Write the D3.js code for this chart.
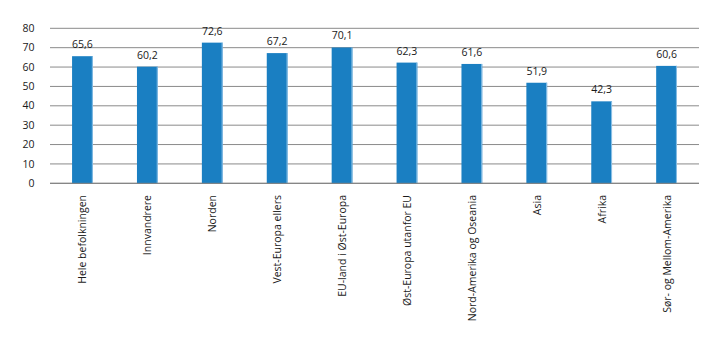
<!DOCTYPE html>
<html><head><meta charset="utf-8">
<script src="https://cdn.jsdelivr.net/npm/d3@7"></script>
<style>body{margin:0;background:#fff}svg{display:block}text{font-family:"Open Sans",sans-serif;fill:#1a1a1a}</style>
</head><body><svg id="c" width="720" height="341"></svg>
<script>
const categories = ["Hele befolkningen","Innvandrere","Norden","Vest-Europa ellers","EU-land i Øst-Europa","Øst-Europa utanfor EU","Nord-Amerika og Oseania","Asia","Afrika","Sør- og Mellom-Amerika"];
const values = [65.6,60.2,72.6,67.2,70.1,62.3,61.6,51.9,42.3,60.6];
const yTicks = [0,10,20,30,40,50,60,70,80];

const svg = d3.select("#c");
const mLeft = 50, mRight = 699, mTop = 28.3, mBottom = 183.3;
const x = d3.scaleBand().domain(categories).range([mLeft, mRight]).paddingInner(0.68).paddingOuter(0.34);
const y = d3.scaleLinear().domain([0,80]).range([mBottom, mTop]);

svg.append("g").selectAll("line").data(yTicks).join("line")
  .attr("x1", mLeft).attr("x2", mRight)
  .attr("y1", d=>y(d)).attr("y2", d=>y(d))
  .attr("stroke", "#8a8a8a").attr("stroke-width", 1);

svg.append("g").selectAll("text").data(yTicks).join("text")
  .attr("x", 34.5).attr("y", d=>y(d)).attr("dy","0.35em")
  .attr("text-anchor","end").attr("font-size","10.5px").text(d=>d);

const bars = svg.append("g");
bars.selectAll("rect").data(values).join("rect")
  .attr("x", (d,i)=>x(categories[i])).attr("width", x.bandwidth())
  .attr("y", d=>y(d)).attr("height", d=>mBottom - y(d))
  .attr("fill", "#1a7fc2");
bars.selectAll("line").data(values).join("line")
  .attr("x1", (d,i)=>x(categories[i])+x.bandwidth()-0.5).attr("x2", (d,i)=>x(categories[i])+x.bandwidth()-0.5)
  .attr("y1", d=>y(d)).attr("y2", mBottom)
  .attr("stroke", "#8cc0e6").attr("stroke-width", 1);

svg.append("line").attr("x1", mLeft).attr("x2", mRight).attr("y1", mBottom).attr("y2", mBottom)
  .attr("stroke", "#808080").attr("stroke-width", 1);

svg.append("g").selectAll("text").data(values).join("text")
  .attr("x", (d,i)=>x(categories[i]) + x.bandwidth()/2).attr("y", d=>y(d)-8)
  .attr("text-anchor","middle").attr("font-size","10.5px")
  .text(d=>d3.format(".1f")(d).replace(".", ","));

svg.append("g").selectAll("text").data(categories).join("text")
  .attr("transform", d=>`translate(${x(d)+x.bandwidth()/2+4},195) rotate(-90)`)
  .attr("text-anchor","end").attr("font-size","10.5px").text(d=>d);
</script></body></html>
